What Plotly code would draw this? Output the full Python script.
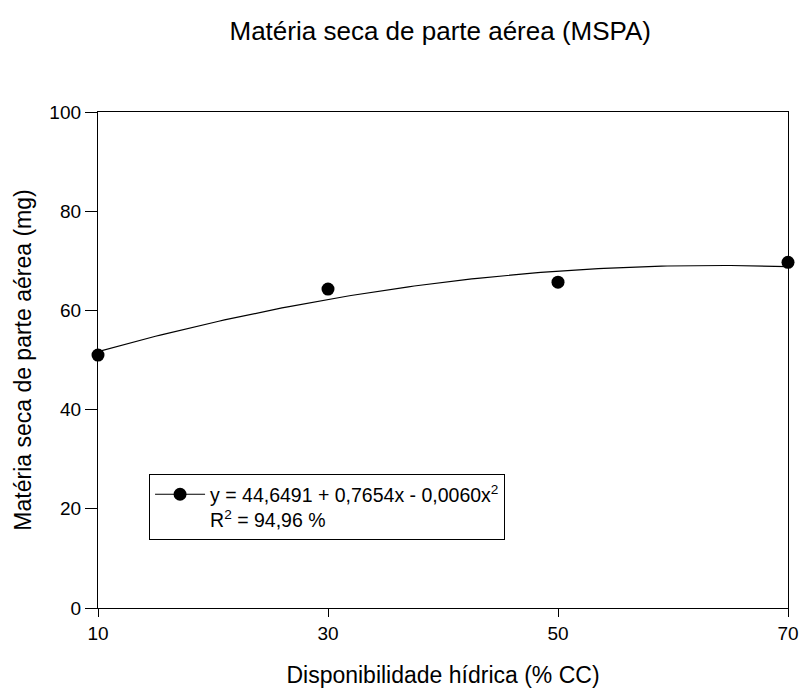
import plotly.graph_objects as go
import numpy as np

# Data
x_vals = [10, 30, 50, 70]
y_vals = [51.0, 64.3, 65.7, 69.7]
coefs = [44.6491, 0.7654, -0.0060]  # regression y = a + b x + c x^2
x_ticks = [10, 30, 50, 70]
y_ticks = [0, 20, 40, 60, 80, 100]

title = "Matéria seca de parte aérea (MSPA)"
x_title = "Disponibilidade hídrica (% CC)"
y_title = "Matéria seca de parte aérea (mg)"
eq_text = "y = 44,6491 + 0,7654x - 0,0060x<sup>2</sup><br>R<sup>2</sup> = 94,96 %"

xf = np.linspace(min(x_vals), max(x_vals), 121)
yf = coefs[0] + coefs[1] * xf + coefs[2] * xf ** 2

font = "Liberation Sans, Arial, sans-serif"

fig = go.Figure()
fig.add_trace(go.Scatter(x=xf, y=yf, mode="lines", line=dict(color="black", width=1.2),
                         showlegend=False, hoverinfo="skip", cliponaxis=False))
fig.add_trace(go.Scatter(x=x_vals, y=y_vals, mode="markers",
                         marker=dict(color="black", size=13), showlegend=False,
                         cliponaxis=False))
# legend entry
fig.add_trace(go.Scatter(x=[None], y=[None], mode="lines+markers",
                         marker=dict(color="black", size=13),
                         line=dict(color="black", width=1.2),
                         name=eq_text, showlegend=True))

fig.update_layout(
    width=799, height=690,
    margin=dict(l=98, r=11, t=112, b=82),
    paper_bgcolor="white", plot_bgcolor="white",
    font=dict(family=font, color="black", size=19),
    title=dict(text=title, x=0.551, xanchor="center", y=0.955, yanchor="middle",
               font=dict(size=26, family=font, color="black")),
    showlegend=True,
    legend=dict(x=0.074, y=0.27, xanchor="left", yanchor="top",
                bordercolor="black", borderwidth=1, bgcolor="white",
                font=dict(size=19.5, family=font), valign="top",
                itemwidth=50, tracegroupgap=0),
)
fig.update_xaxes(range=[10, 70], tickvals=x_ticks, ticks="outside", ticklen=8,
                 tickcolor="black", showline=True, linecolor="black", linewidth=1.3,
                 mirror=True, showgrid=False, zeroline=False, ticklabeloverflow="allow",
                 automargin=False,
                 title=dict(text=x_title, font=dict(size=23), standoff=23),
                 tickfont=dict(size=19))
fig.update_yaxes(range=[0, 100], tickvals=y_ticks, ticks="outside", ticklen=12,
                 tickcolor="black", showline=True, linecolor="black", linewidth=1.3,
                 mirror=True, showgrid=False, zeroline=False, automargin=False,
                 title=dict(text=y_title, font=dict(size=23), standoff=11),
                 tickfont=dict(size=19))

fig.write_html("out.html")
